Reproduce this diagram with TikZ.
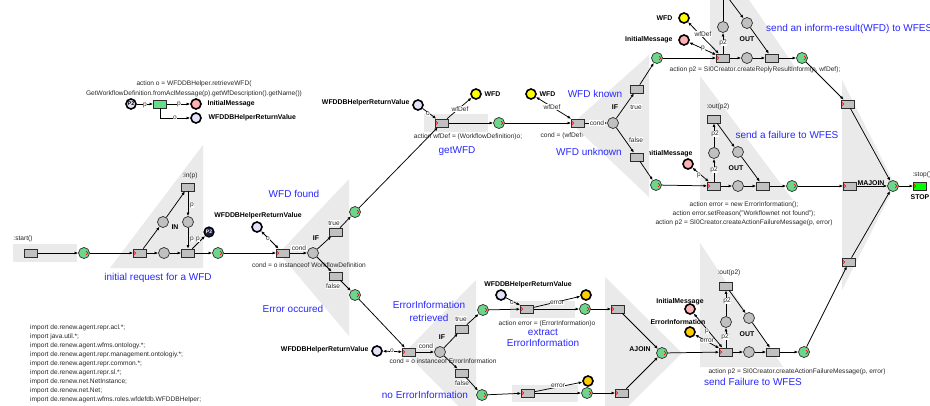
\documentclass[tikz,border=0pt]{standalone}
\usepackage{fontspec}
\setmainfont{Liberation Sans}
\usetikzlibrary{arrows.meta,calc}

\definecolor{bgray}{RGB}{234,234,234}
\definecolor{tgray}{RGB}{192,192,192}
\definecolor{pgray}{RGB}{192,192,192}
\definecolor{pgreen}{RGB}{110,214,140}
\definecolor{plav}{RGB}{226,226,250}
\definecolor{pyel}{RGB}{255,255,0}
\definecolor{pora}{RGB}{255,204,0}
\definecolor{ppink}{RGB}{255,176,176}
\definecolor{bluetxt}{RGB}{40,40,255}
\definecolor{stopg}{RGB}{0,255,0}
\definecolor{legreen}{RGB}{100,220,140}
\definecolor{edgec}{RGB}{45,45,45}
\definecolor{navyc}{RGB}{30,30,70}
\definecolor{lbltxt}{RGB}{40,40,40}

\tikzset{
  trn/.style={rectangle, draw=edgec, fill=tgray, line width=0.7pt,
    minimum width=13pt, minimum height=8pt, inner sep=0pt},
  plc/.style={circle, draw=edgec, fill=pgray, line width=0.7pt,
    minimum size=11pt, inner sep=0pt},
  gplc/.style={plc, fill=pgreen},
  dplc/.style={circle, draw=black, line width=1.6pt, minimum size=10pt, inner sep=0pt},
  netarc/.style={-{Latex[length=3.6pt,width=3pt]}, line width=0.75pt},
  testarc/.style={{Latex[length=3.6pt,width=3pt]}-{Latex[length=3.6pt,width=3pt]}, line width=0.75pt},
  lbl/.style={font=\fontsize{6.6}{7.6}\selectfont, text=lbltxt, inner sep=0.4pt},
  albl/.style={lbl, fill=white},
  blbl/.style={font=\fontsize{6.9}{7.8}\selectfont\bfseries, inner sep=0.4pt},
  bluetext/.style={font=\fontsize{10}{12}\selectfont, text=bluetxt, align=center, inner sep=0pt},
  redtick/.style={draw=red, line width=0.6pt},
}

\begin{document}
\begin{tikzpicture}[x=1pt,y=-1pt]
\clip (0,0) rectangle (930,405);
\fill[white] (0,0) rectangle (930,405);

% labels that lie partly under the IF region of the second test
\node[lbl, anchor=west] (lcondwf) at (540,136) {cond = (wfDef!=null)};
\node[blbl, anchor=east] (linit2) at (693,154) {InitialMessage};

% grey regions behind the net parts
\fill[bgray] (13,244) rectangle (77,262);
\fill[bgray] (110,268) -- (203,145) -- (203,268) -- cycle;
\fill[bgray] (279,253) -- (349,179) -- (349,336) -- cycle;
\fill[bgray] (424,114) rectangle (488,132);
\fill[bgray] (572,124) -- (649,55) -- (649,197) -- cycle;
\fill[bgray] (710,-57) -- (710,67) -- (795,67) -- cycle;
\fill[bgray] (700,76) -- (700,200) -- (793,200) -- cycle;
\fill[bgray] (842,80) -- (842,290) -- (895,185) -- cycle;
\fill[bgray] (405,352) -- (476,280) -- (476,424) -- cycle;
\fill[bgray] (510,301) rectangle (575,318);
\fill[bgray] (512,385) rectangle (578,402);
\fill[bgray] (605,277) -- (605,429) -- (682,353) -- cycle;
\fill[bgray] (700,243) -- (700,367) -- (783,367) -- cycle;

% ---------- declaration legend ----------
\node[lbl, align=center, font=\fontsize{6.6}{9.8}\selectfont] (legact) at (194,89)
  {action o = WFDDBHelper.retrieveWFD(\\GetWorkflowDefinition.fromAclMessage(p).getWfDescription().getName())};
\node[dplc, fill=plav, font=\fontsize{5.5}{6}\selectfont\bfseries] (legP2) at (131,104) {P2};
\node[trn, fill=legreen] (legT) at (160,104) {};
\node[dplc, fill=ppink] (legInit) at (196,104) {};
\node[dplc, fill=plav] (legRet) at (196,118) {};
\node[blbl, anchor=west] (legInitL) at (207,104) {InitialMessage};
\node[blbl, anchor=west] (legRetL) at (208,118) {WFDDBHelperReturnValue};
\draw[netarc] (legP2) -- (legT);
\draw[netarc] (legT) -- (legInit);
\draw[netarc] (legT.south) |- (legRet);
\node[albl] (legp1) at (145,105) {p};
\node[albl] (legp2) at (179,104) {p};
\node[albl] (lego) at (175,118) {o};

% ---------- start and IN ----------
\node[trn] (tstart) at (31,253) {};
\node[lbl] (lstart) at (23,239) {:start()};
\node[gplc] (g1) at (84,253) {};
\node[trn] (tin1) at (140,253) {};
\node[plc] (pin) at (163,222) {};
\node[blbl] (lIN) at (175,227) {IN};
\node[trn] (tin) at (188,187) {};
\node[lbl] (lin) at (190,176) {:in(p)};
\node[plc] (pinp) at (188,222) {};
\node[plc] (pmid1) at (164,253) {};
\node[trn] (tin2) at (188,253) {};
\node[circle, draw=black, fill=navyc, line width=1.2pt, minimum size=10pt, inner sep=0pt,
      text=white, font=\fontsize{5}{5}\selectfont\bfseries] (pP2) at (209,232) {P2};
\node[gplc] (g2) at (218,253) {};
\node[bluetext] (lreq) at (158,278) {initial request for a WFD};

% ---------- first IF ----------
\node[trn] (tc1) at (283,253) {};
\node[dplc, fill=plav] (pret1) at (257,227) {};
\node[blbl] (lret1) at (258,216) {WFDDBHelperReturnValue};
\node[plc] (if1) at (313,253) {};
\node[blbl] (lif1) at (316,238) {IF};
\node[lbl] (lcond1) at (309,265) {cond = o instanceof WorkflowDefinition};
\node[bluetext] (lfound) at (294,194) {WFD found};
\node[bluetext] (lerr) at (293,309) {Error occured};
\node[trn] (ttrue1) at (336,232) {};
\node[albl] (ltrue1) at (334,223) {true};
\node[gplc] (g3) at (355,212) {};
\node[trn] (tfalse1) at (336,276) {};
\node[albl] (lfalse1) at (333,286) {false};
\node[gplc] (g4) at (355,295) {};

% ---------- getWFD ----------
\node[dplc, fill=plav] (pret2) at (418,105) {};
\node[blbl, anchor=east] (lret2) at (410,103) {WFDDBHelperReturnValue};
\node[trn] (tget) at (442,123) {};
\node[dplc, fill=pyel] (pwfd1) at (476,94) {};
\node[blbl, anchor=west] (lwfd1) at (484,94) {WFD};
\node[gplc] (g5) at (499,123) {};
\node[lbl] (lact1) at (468,137) {action wfDef = (WorkflowDefinition)o;};
\node[bluetext] (lget) at (457,151) {getWFD};

% ---------- second IF ----------
\node[dplc, fill=pyel] (pwfd2) at (531,94) {};
\node[blbl, anchor=west] (lwfd2) at (539,94) {WFD};
\node[trn] (tc2) at (578,123) {};
\node[plc] (if2) at (613,123) {};
\node[blbl] (lif2) at (615,107) {IF};
\node[bluetext] (lknown) at (595,94) {WFD known};
\node[bluetext] (lunknown) at (589,152) {WFD unknown};
\node[trn] (ttrue2) at (637,89) {};
\node[gplc] (g6) at (657,58) {};
\node[trn] (tfalse2) at (637,157) {};
\node[gplc] (g7) at (656,185) {};

% ---------- inform result ----------
\node[dplc, fill=pyel] (pwfd3) at (684,18) {};
\node[blbl, anchor=east] (lwfd3) at (673,18) {WFD};
\node[dplc, fill=ppink] (pinit1) at (684,40) {};
\node[blbl, anchor=east] (linit1) at (673,40) {InitialMessage};
\node[trn] (tsend1) at (723,58) {};
\node[plc] (pp21) at (723,27) {};
\node[trn] (tout1) at (723,-9) {};
\node[plc] (pout1) at (747,23) {};
\node[blbl] (lout1) at (747,39) {OUT};
\node[plc] (pmid2) at (747,58) {};
\node[trn] (tfin1) at (772,58) {};
\node[gplc] (g8) at (802,58) {};
\node[lbl] (lact2) at (755,70) {action p2 = SI0Creator.createReplyResultInform(p, wfDef);};
\node[bluetext, anchor=west] (lsend1) at (766,29) {send an inform-result(WFD) to WFES};

% ---------- failure (WFD unknown) ----------
\node[trn] (tout2) at (714,119) {};
\node[lbl] (lout2t) at (718,107) {:out(p2)};
\node[plc] (pp22) at (714,153) {};
\node[plc] (pout2) at (738,152) {};
\node[blbl] (lout2) at (736,168) {OUT};
\node[trn] (tsend2) at (714,186) {};
\node[plc] (pmid3) at (738,186) {};
\node[trn] (tfin2) at (763,186) {};
\node[gplc] (g9) at (792,186) {};
\node[dplc, fill=ppink] (pinit2) at (688,164) {};
\node[lbl, align=center, font=\fontsize{6.6}{9}\selectfont] (lact5) at (744,214)
  {action error = new ErrorInformation();\\action error.setReason("Workflownet not found");\\action p2 = SI0Creator.createActionFailureMessage(p, error)};
\node[bluetext] (lsend2) at (787,135) {send a failure to WFES};

% ---------- MAJOIN and stop ----------
\node[trn] (tmj1) at (848,104) {};
\node[trn] (tmj2) at (850,186) {};
\node[trn] (tmj3) at (849,262) {};
\node[gplc] (pjoin) at (893,186) {};
\node[blbl] (lmj) at (871,183) {MAJOIN};
\node[trn, fill=stopg] (tstop) at (920,186) {};
\node[lbl, anchor=west] (lstop) at (912,175) {:stop()};
\node[blbl] (lstop2) at (920,197) {STOP};

% ---------- third IF ----------
\node[dplc, fill=plav] (pret3) at (377,351) {};
\node[blbl, anchor=east] (lret3) at (369,350) {WFDDBHelperReturnValue};
\node[trn] (tc3) at (409,352) {};
\node[plc] (if3) at (440,352) {};
\node[blbl] (lif3) at (442,337) {IF};
\node[lbl] (lcond3b) at (443,361) {cond = o instanceof ErrorInformation};
\node[trn] (ttrue3) at (462,329) {};
\node[albl] (ltrue3) at (461,319) {true};
\node[gplc] (g10) at (483,310) {};
\node[trn] (tfalse3) at (462,373) {};
\node[albl] (lfalse3) at (462,383) {false};
\node[gplc] (g11) at (482,395) {};
\node[bluetext, font=\fontsize{10}{13}\selectfont] (lretr) at (429,311) {ErrorInformation\\retrieved};
\node[bluetext] (lnoerr) at (425,395) {no ErrorInformation};

% ---------- extract ----------
\node[dplc, fill=plav] (pret4) at (501,295) {};
\node[blbl] (lret4) at (528,285) {WFDDBHelperReturnValue};
\node[trn] (text1) at (527,309) {};
\node[dplc, fill=pora] (perr1) at (586,295) {};
\node[gplc] (g12) at (585,309) {};
\node[lbl] (lact3) at (547,324) {action error = (ErrorInformation)o};
\node[bluetext, font=\fontsize{10}{11.5}\selectfont] (lextr) at (543,338) {extract\\ErrorInformation};
\node[trn] (tnoe) at (528,393) {};
\node[dplc, fill=pora] (perr2) at (588,381) {};
\node[gplc] (g13) at (587,393) {};

% ---------- AJOIN ----------
\node[trn] (taj1) at (618,309) {};
\node[trn] (taj2) at (622,393) {};
\node[gplc] (paj) at (662,353) {};
\node[blbl] (laj) at (640,349) {AJOIN};

% ---------- failure (error path) ----------
\node[trn] (tout3) at (726,286) {};
\node[lbl] (lout3t) at (729,273) {:out(p2)};
\node[plc] (pp23) at (726,322) {};
\node[plc] (pout3) at (749,318) {};
\node[blbl] (lout3) at (747,334) {OUT};
\node[trn] (tsend3) at (726,352) {};
\node[plc] (pmid4) at (749,352) {};
\node[trn] (tfin3) at (773,352) {};
\node[gplc] (g14) at (804,352) {};
\node[dplc, fill=ppink] (pinit3) at (690,309) {};
\node[blbl] (linit3) at (680,302) {InitialMessage};
\node[dplc, fill=pora] (perr3) at (690,332) {};
\node[blbl] (lerr3) at (678,322) {ErrorInformation};
\node[lbl] (lact4) at (797,372) {action p2 = SI0Creator.createActionFailureMessage(p, error)};
\node[bluetext] (lsend3) at (753,382) {send Failure to WFES};

% ---------- imports ----------
\node[lbl, align=left, anchor=north west, inner sep=0pt, font=\fontsize{6.6}{9}\selectfont] (imports) at (30,325)
  {import de.renew.agent.repr.acl.*;\\
   import java.util.*;\\
   import de.renew.agent.wfms.ontology.*;\\
   import de.renew.agent.repr.management.ontologiy.*;\\
   import de.renew.agent.repr.common.*;\\
   import de.renew.agent.repr.sl.*;\\
   import de.renew.net.NetInstance;\\
   import de.renew.net.Net;\\
   import de.renew.agent.wfms.roles.wfdefdb.WFDDBHelper;};

% ---------- arcs ----------
\draw[netarc] (tstart) -- (g1);
\draw[netarc] (g1) -- (tin1);
\draw[netarc] (tin1) -- (pin);
\draw[netarc] (pin) -- (tin);
\draw[netarc] (tin) -- (pinp);
\draw[netarc] (pinp) -- (tin2);
\draw[netarc] (tin1) -- (pmid1);
\draw[netarc] (pmid1) -- (tin2);
\draw[netarc] (tin2) -- (pP2);
\draw[netarc] (tin2) -- (g2);
\draw[netarc] (g2) -- (tc1);
\draw[testarc] (pret1) -- (tc1);
\draw[netarc] (tc1) -- (if1);
\draw[netarc] (if1) -- (ttrue1);
\draw[netarc] (ttrue1) -- (g3);
\draw[netarc] (if1) -- (tfalse1);
\draw[netarc] (tfalse1) -- (g4);

\draw[netarc] (g3) -- (tget);
\draw[netarc] (pret2) -- (tget);
\draw[netarc] (tget) -- (pwfd1);
\draw[netarc] (tget) -- (g5);
\draw[netarc] (g5) -- (tc2);
\draw[testarc] (pwfd2) -- (tc2);
\draw[netarc] (tc2) -- (if2);
\draw[netarc] (if2) -- (ttrue2);
\draw[netarc] (ttrue2) -- (g6);
\draw[netarc] (if2) -- (tfalse2);
\draw[netarc] (tfalse2) -- (g7);

\draw[netarc] (g6) -- (tsend1);
\draw[testarc] (pwfd3) -- (tsend1);
\draw[testarc] (pinit1) -- (tsend1);
\draw[netarc] (tsend1) -- (pp21);
\draw[netarc] (pp21) -- (tout1);
\draw[netarc] (tout1) -- (pout1);
\draw[netarc] (pout1) -- (tfin1);
\draw[netarc] (tsend1) -- (pmid2);
\draw[netarc] (pmid2) -- (tfin1);
\draw[netarc] (tfin1) -- (g8);
\draw[netarc] (g8) -- (tmj1);

\draw[netarc] (g7) -- (tsend2);
\draw[testarc] (pinit2) -- (tsend2);
\draw[netarc] (tsend2) -- (pp22);
\draw[netarc] (pp22) -- (tout2);
\draw[netarc] (tout2) -- (pout2);
\draw[netarc] (pout2) -- (tfin2);
\draw[netarc] (tsend2) -- (pmid3);
\draw[netarc] (pmid3) -- (tfin2);
\draw[netarc] (tfin2) -- (g9);
\draw[netarc] (g9) -- (tmj2);

\draw[netarc] (tmj1) -- (pjoin);
\draw[netarc] (tmj2) -- (pjoin);
\draw[netarc] (tmj3) -- (pjoin);
\draw[netarc] (pjoin) -- (tstop);

\draw[netarc] (g4) -- (tc3);
\draw[testarc] (pret3) -- (tc3);
\draw[netarc] (tc3) -- (if3);
\draw[netarc] (if3) -- (ttrue3);
\draw[netarc] (ttrue3) -- (g10);
\draw[netarc] (if3) -- (tfalse3);
\draw[netarc] (tfalse3) -- (g11);
\draw[netarc] (g10) -- (text1);
\draw[netarc] (pret4) -- (text1);
\draw[netarc] (text1) -- (perr1);
\draw[netarc] (text1) -- (g12);
\draw[netarc] (g12) -- (taj1);
\draw[netarc] (taj1) -- (paj);
\draw[netarc] (g11) -- (tnoe);
\draw[netarc] (tnoe) -- (perr2);
\draw[netarc] (tnoe) -- (g13);
\draw[netarc] (g13) -- (taj2);
\draw[netarc] (taj2) -- (paj);

\draw[netarc] (paj) -- (tsend3);
\draw[testarc] (pinit3) -- (tsend3);
\draw[testarc] (perr3) -- (tsend3);
\draw[netarc] (tsend3) -- (pp23);
\draw[netarc] (pp23) -- (tout3);
\draw[netarc] (tout3) -- (pout3);
\draw[netarc] (pout3) -- (tfin3);
\draw[netarc] (tsend3) -- (pmid4);
\draw[netarc] (pmid4) -- (tfin3);
\draw[netarc] (tfin3) -- (g14);
\draw[netarc] (g14) -- (tmj3);

% ---------- arc inscriptions ----------
\node[albl] (ap1) at (192,205) {p};
\node[albl] (ap2) at (192,239) {p};
\node[albl] (ap3) at (198,239) {p};
\node[albl] (ao1) at (268,239) {o};
\node[albl] (acond1) at (299,248) {cond};
\node[albl] (ao2) at (428,114) {o};
\node[albl] (awf1) at (460,109) {wfDef};
\node[albl] (awf2) at (552,107) {wfDef};
\node[albl] (acond2) at (597,123) {cond};
\node[albl] (ltrue2) at (636,107) {true};
\node[albl] (lfalse2) at (636,140) {false};
\node[albl] (awf3) at (703,34) {wfDef};
\node[albl] (ap4) at (703,48) {p};
\node[albl] (ap5) at (723,43) {p2};
\node[albl] (ap6) at (715,134) {p2};
\node[albl] (ap7) at (714,170) {p2};
\node[albl] (ap8) at (699,175) {p};
\node[albl] (ao3) at (392,351) {o};
\node[albl] (acond3) at (426,346) {cond};
\node[albl] (ao4) at (512,303) {o};
\node[albl] (aer1) at (557,303) {error};
\node[albl] (aer2) at (558,386) {error};
\node[albl] (ap9) at (707,331) {p};
\node[albl] (aer3) at (707,341) {error};
\node[albl] (ap10) at (727,301) {p2};
\node[albl] (ap11) at (725,337) {p2};

% ---------- small red markers ----------
\foreach \n in {g1,g2,g3,g4,g5,g6,g7,g8,g9,g10,g11,g12,g13,g14,paj,pjoin}
  \draw[redtick] ([shift={(-3.8,-1.8)}]\n.east) -- ([shift={(-1.8,0)}]\n.east) -- ([shift={(-3.8,1.8)}]\n.east);
\foreach \n in {tin1,tc1,tget,tc2,tsend1,tsend2,tmj1,tmj2,tmj3,tstop,tc3,text1,taj1,tnoe,taj2,tsend3}
  \draw[redtick] ([shift={(0.6,-1.8)}]\n.west) -- ([shift={(2.6,0)}]\n.west) -- ([shift={(0.6,1.8)}]\n.west);
\end{tikzpicture}
\end{document}
